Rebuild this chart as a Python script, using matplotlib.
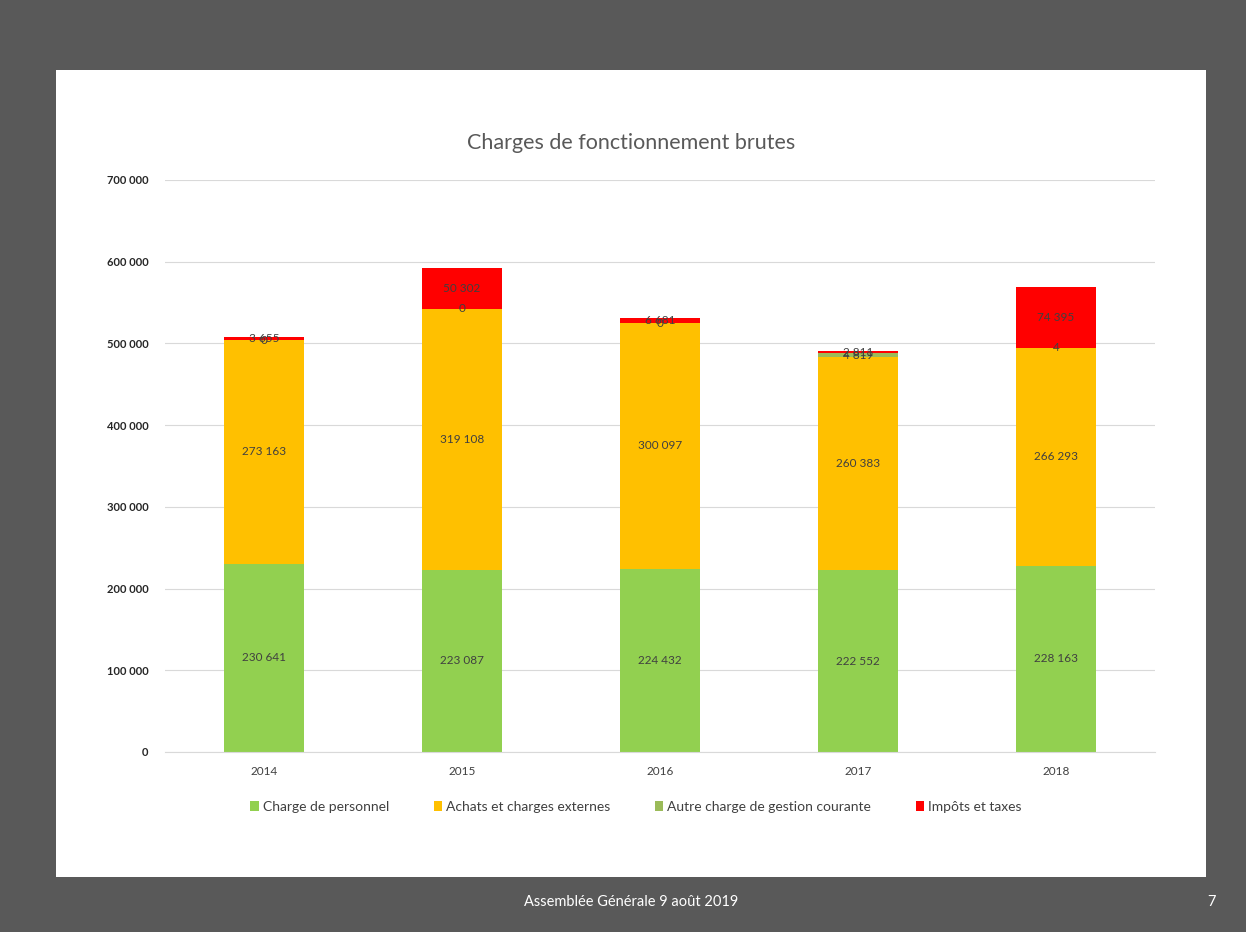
import numpy as np
import matplotlib; matplotlib.use("Agg")
import matplotlib.pyplot as plt
from matplotlib.patches import Rectangle

plt.rcParams['font.family'] = ['Lato', 'DejaVu Sans']

years = ["2014", "2015", "2016", "2017", "2018"]
personnel = [230641, 223087, 224432, 222552, 228163]
achats = [273163, 319108, 300097, 260383, 266293]
autre = [0, 0, 0, 4819, 4]
impots = [3655, 50302, 6681, 2811, 74395]

series = [
    ("Charge de personnel", personnel, "#92D050"),
    ("Achats et charges externes", achats, "#FFC000"),
    ("Autre charge de gestion courante", autre, "#9BBB59"),
    ("Impôts et taxes", impots, "#FF0000"),
]

W, H = 1246, 932
fig = plt.figure(figsize=(W / 100, H / 100), dpi=100)
fig.patch.set_facecolor("#595959")
# white slide panel
fig.add_artist(Rectangle((56 / W, 1 - 877 / H), (1206 - 56) / W, (877 - 70) / H,
                         transform=fig.transFigure, facecolor="white", edgecolor="none", zorder=0))

ax = fig.add_axes([165 / W, 1 - 752 / H, 990 / W, 572 / H])
ax.set_facecolor("white")
x = np.arange(len(years))
bottom = np.zeros(len(years))
for name, vals, col in series:
    vals = np.array(vals, float)
    ax.bar(x, vals, 0.4, bottom=bottom, color=col, label=name, zorder=2)
    for xi, b, v in zip(x, bottom, vals):
        lbl = f"{int(v):,}".replace(",", " ")
        ax.text(xi, b + v / 2, lbl, ha="center", va="center", fontsize=8.5,
                color="#404040", zorder=3)
    bottom += vals

ax.set_xlim(-0.5, len(years) - 0.5)
ax.set_ylim(0, 700000)
ax.set_yticks(np.arange(0, 700001, 100000))
ax.set_yticklabels([f"{int(v):,}".replace(",", " ") for v in ax.get_yticks()],
                   fontsize=8, fontweight="bold", color="#262626")
ax.set_xticks(x)
ax.set_xticklabels(years, fontsize=8.5, color="#404040")
ax.yaxis.grid(True, color="#D9D9D9", linewidth=0.8, zorder=0)
ax.tick_params(length=0, pad=12)
ax.tick_params(axis="x", pad=10)
for s in ["top", "right", "left"]:
    ax.spines[s].set_visible(False)
ax.spines["bottom"].set_color("#D9D9D9")

fig.text(631 / W, 1 - 143 / H, "Charges de fonctionnement brutes", ha="center", va="center",
         fontsize=15.5, color="#595959")

fig.legend(loc="center", bbox_to_anchor=(636 / W, 1 - 807 / H), ncol=4, frameon=False,
           fontsize=10, handlelength=0.6, handleheight=0.7, handletextpad=0.3,
           columnspacing=3.2, labelcolor="#404040")

fig.text(631 / W, 1 - 902 / H, "Assemblée Générale 9 août 2019", ha="center", va="center",
         fontsize=10.5, color="white")
fig.text(1212 / W, 1 - 902 / H, "7", ha="center", va="center", fontsize=10.5, color="white")

fig.savefig("out.png", dpi=100, facecolor=fig.get_facecolor())
